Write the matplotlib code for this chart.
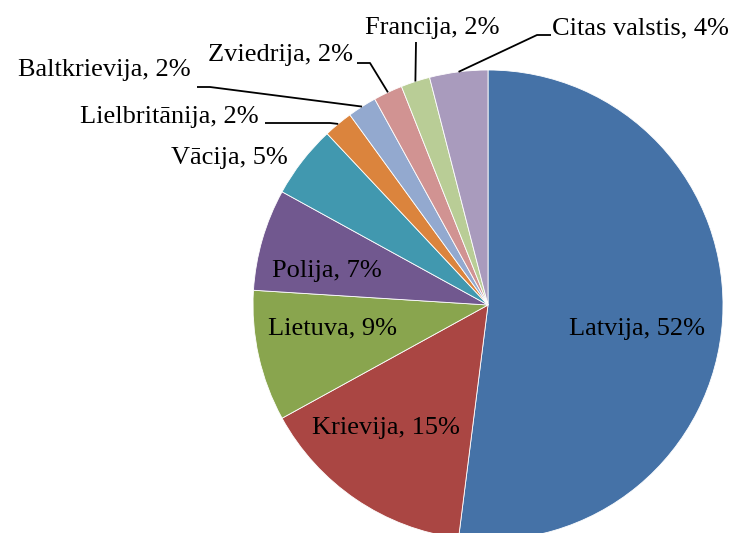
import numpy as np
import matplotlib
matplotlib.use("Agg")
import matplotlib.pyplot as plt

categories = ["Latvija", "Krievija", "Lietuva", "Polija", "Vācija",
              "Lielbritānija", "Baltkrievija", "Zviedrija", "Francija", "Citas valstis"]
values = [52, 15, 9, 7, 5, 2, 2, 2, 2, 4]
colors = ["#4572A7", "#AA4643", "#89A54E", "#71588F", "#4198AF",
          "#DB843D", "#93A9CF", "#D19392", "#B9CD96", "#A99BBD"]

W, H = 736, 533
fig = plt.figure(figsize=(W / 100, H / 100), dpi=100)
ax = fig.add_axes([0, 0, 1, 1])

cx, cy_px, R = 488, 305, 235
center = (cx, H - cy_px)

wedges, _ = ax.pie(values, colors=colors, startangle=90, counterclock=False,
                   center=center, radius=R, frame=True,
                   wedgeprops=dict(edgecolor="white", linewidth=0.6))
ax.set_xlim(0, W)
ax.set_ylim(0, H)
ax.set_aspect("equal")
ax.axis("off")

FONT = "Liberation Serif"
FS = 19

def P(x, y):
    return (x, H - y)

# label layout: (x_px, y_px, ha) and optional leader elbow points (pixels)
layout = {
    "Latvija": (637, 329, "center", None),
    "Krievija": (386, 428, "center", None),
    "Lietuva": (333, 328, "center", None),
    "Polija": (327, 271, "center", None),
    "Vācija": (288, 158, "right", None),
    "Lielbritānija": (259, 117, "right", [(265, 123), (330, 123)]),
    "Baltkrievija": (191, 70, "right", [(197, 87), (210, 87)]),
    "Zviedrija": (353, 55, "right", [(357, 63), (370, 63)]),
    "Francija": (432, 28, "center", [(416, 42)]),
    "Citas valstis": (552, 28, "left", [(551, 35), (537, 35)]),
}

total = sum(values)
for w, cat, v in zip(wedges, categories, values):
    x, y, ha, elbow = layout[cat]
    tx, ty = P(x, y)
    ax.text(tx, ty, f"{cat}, {v / total * 100:.0f}%", ha=ha, va="center",
            fontsize=FS, family=FONT, color="black")
    if elbow:
        mid = np.deg2rad((w.theta1 + w.theta2) / 2)
        ax_, ay_ = center[0] + R * np.cos(mid), center[1] + R * np.sin(mid)
        pts = [P(px, py) for px, py in elbow] + [(ax_, ay_)]
        xs, ys = zip(*pts)
        ax.plot(xs, ys, color="black", lw=1.3, solid_capstyle="butt")

fig.savefig("out.png", dpi=100, facecolor="white")
